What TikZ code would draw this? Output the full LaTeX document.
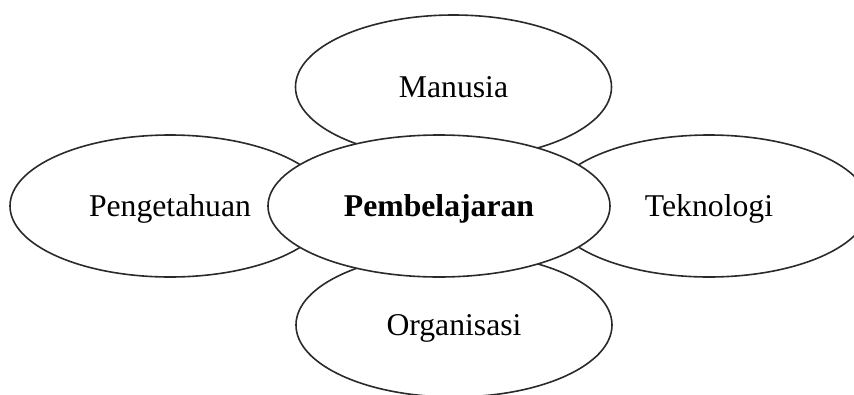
\documentclass[tikz,border=0pt]{standalone}
\usepackage{fontspec}
\setmainfont{Liberation Serif}
\usetikzlibrary{shapes.geometric}
\definecolor{edgegray}{HTML}{2A2A2A}
\begin{document}
\begin{tikzpicture}[x=1pt,y=-1pt,
  bubble/.style={ellipse, draw=edgegray, line width=1.6pt, fill=white,
    inner sep=0pt, text height=21pt, text depth=0pt,
    font=\fontsize{31.7}{38}\selectfont},
  outer/.style={bubble, minimum width=316pt, minimum height=144pt}]
\useasboundingbox (0,0) rectangle (854,394);
\clip (0,0) rectangle (854,394);
\node[outer] (man) at (453.5,87) {Manusia};
\node[outer, minimum width=320pt, minimum height=142pt] (peng) at (170,206) {Pengetahuan};
\node[outer, minimum width=320pt, minimum height=142pt] (tek) at (709,206) {Teknologi};
\node[outer] (org) at (454,325) {Organisasi};
\node[bubble, minimum width=342pt, minimum height=142pt] (pemb) at (439,206) {\textbf{Pembelajaran}};
\end{tikzpicture}
\end{document}
